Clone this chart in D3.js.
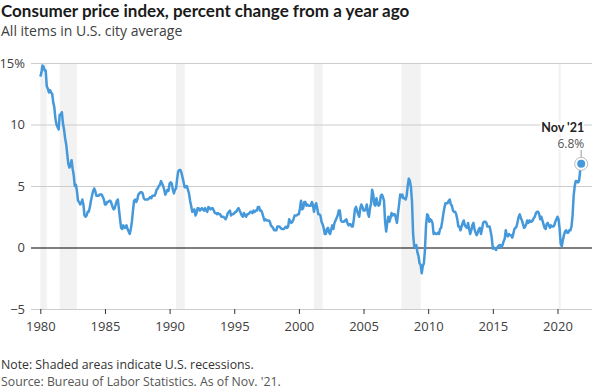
<!DOCTYPE html>
<html>
<head>
<meta charset="utf-8">
<script src="https://cdn.jsdelivr.net/npm/d3@7"></script>
<style>
  body { margin: 0; background: #fff; }
  svg { font-family: Lato, "Open Sans", sans-serif; }
</style>
</head>
<body>
<svg width="592" height="392"></svg>
<script>
// CPI-U all items, % change from a year ago, monthly from Jan 1980
const startYear = 1980;
const cpiYoY = [
  13.9, 14.2, 14.8, 14.7, 14.4, 14.4, 13.1, 12.9, 12.6, 12.8, 12.6, 12.5, // 1980
  11.8, 11.4, 10.5, 10.0, 9.8, 9.6, 10.8, 10.8, 11.0, 10.1, 9.6, 8.9,     // 1981
  8.4, 7.6, 6.8, 6.5, 6.7, 7.1, 6.4, 5.9, 5.0, 5.1, 4.6, 3.8,             // 1982
  3.7, 3.5, 3.6, 3.9, 3.5, 2.6, 2.5, 2.6, 2.9, 2.9, 3.3, 3.8,             // 1983
  4.2, 4.6, 4.8, 4.6, 4.2, 4.2, 4.2, 4.3, 4.3, 4.3, 4.1, 3.9,             // 1984
  3.5, 3.5, 3.7, 3.7, 3.8, 3.8, 3.6, 3.3, 3.1, 3.2, 3.5, 3.8,             // 1985
  3.9, 3.1, 2.3, 1.6, 1.5, 1.8, 1.6, 1.6, 1.8, 1.5, 1.3, 1.1,             // 1986
  1.5, 2.1, 3.0, 3.8, 3.9, 3.7, 3.9, 4.3, 4.4, 4.5, 4.5, 4.4,             // 1987
  4.0, 3.9, 3.9, 3.9, 3.9, 4.0, 4.1, 4.0, 4.2, 4.2, 4.2, 4.4,             // 1988
  4.7, 4.8, 5.0, 5.1, 5.4, 5.2, 5.0, 4.7, 4.3, 4.5, 4.7, 4.6,             // 1989
  5.2, 5.3, 5.2, 4.7, 4.4, 4.7, 4.8, 5.6, 6.2, 6.3, 6.3, 6.1,             // 1990
  5.7, 5.3, 4.9, 4.9, 5.0, 4.7, 4.4, 3.8, 3.4, 2.9, 3.0, 3.1,             // 1991
  2.6, 2.8, 3.2, 3.2, 3.0, 3.1, 3.2, 3.1, 3.0, 3.2, 3.0, 2.9,             // 1992
  3.3, 3.2, 3.1, 3.2, 3.2, 3.0, 2.8, 2.8, 2.7, 2.8, 2.7, 2.7,             // 1993
  2.5, 2.5, 2.5, 2.4, 2.3, 2.5, 2.8, 2.9, 3.0, 2.6, 2.7, 2.7,             // 1994
  2.8, 2.9, 2.9, 3.1, 3.2, 3.0, 2.8, 2.6, 2.5, 2.8, 2.6, 2.5,             // 1995
  2.7, 2.7, 2.8, 2.9, 2.9, 2.8, 3.0, 2.9, 3.0, 3.0, 3.3, 3.3,             // 1996
  3.0, 3.0, 2.8, 2.5, 2.2, 2.3, 2.2, 2.2, 2.2, 2.1, 1.8, 1.7,             // 1997
  1.6, 1.4, 1.4, 1.4, 1.7, 1.7, 1.7, 1.6, 1.5, 1.5, 1.5, 1.6,             // 1998
  1.7, 1.6, 1.7, 2.3, 2.1, 2.0, 2.1, 2.3, 2.6, 2.6, 2.6, 2.7,             // 1999
  2.7, 3.2, 3.8, 3.1, 3.2, 3.7, 3.7, 3.4, 3.5, 3.4, 3.4, 3.4,             // 2000
  3.7, 3.5, 2.9, 3.3, 3.6, 3.2, 2.7, 2.7, 2.6, 2.1, 1.9, 1.6,             // 2001
  1.1, 1.1, 1.5, 1.6, 1.2, 1.1, 1.5, 1.8, 1.5, 2.0, 2.2, 2.4,             // 2002
  2.6, 3.0, 3.0, 2.2, 2.1, 2.1, 2.1, 2.2, 2.3, 2.0, 1.8, 1.9,             // 2003
  1.9, 1.7, 1.7, 2.3, 3.1, 3.3, 3.0, 2.7, 2.5, 3.2, 3.5, 3.3,             // 2004
  3.0, 3.0, 3.1, 3.5, 2.8, 2.5, 3.2, 3.6, 4.7, 4.3, 3.5, 3.4,             // 2005
  4.0, 3.6, 3.4, 3.5, 4.2, 4.3, 4.1, 3.8, 2.1, 1.3, 2.0, 2.5,             // 2006
  2.1, 2.4, 2.8, 2.6, 2.7, 2.7, 2.4, 2.0, 2.8, 3.5, 4.3, 4.1,             // 2007
  4.3, 4.0, 4.0, 3.9, 4.2, 5.0, 5.6, 5.4, 4.9, 3.7, 1.1, 0.1,             // 2008
  0.0, 0.2, -0.4, -0.7, -1.3, -1.4, -2.1, -1.5, -1.3, -0.2, 1.8, 2.7,     // 2009
  2.6, 2.1, 2.3, 2.2, 2.0, 1.1, 1.2, 1.1, 1.1, 1.2, 1.1, 1.5,             // 2010
  1.6, 2.1, 2.7, 3.2, 3.6, 3.6, 3.6, 3.8, 3.9, 3.5, 3.4, 3.0,             // 2011
  2.9, 2.9, 2.7, 2.3, 1.7, 1.7, 1.4, 1.7, 2.0, 2.2, 1.8, 1.7,             // 2012
  1.6, 2.0, 1.5, 1.1, 1.4, 1.8, 2.0, 1.5, 1.2, 1.0, 1.2, 1.5,             // 2013
  1.6, 1.1, 1.5, 2.0, 2.1, 2.1, 2.0, 1.7, 1.7, 1.7, 1.3, 0.8,             // 2014
  -0.1, 0.0, -0.1, -0.2, 0.0, 0.1, 0.2, 0.2, 0.0, 0.2, 0.5, 0.7,          // 2015
  1.4, 1.0, 0.9, 1.1, 1.0, 1.0, 0.8, 1.1, 1.5, 1.6, 1.7, 2.1,             // 2016
  2.5, 2.7, 2.4, 2.2, 1.9, 1.6, 1.7, 1.9, 2.2, 2.0, 2.2, 2.1,             // 2017
  2.1, 2.2, 2.4, 2.5, 2.8, 2.9, 2.9, 2.7, 2.3, 2.5, 2.2, 1.9,             // 2018
  1.6, 1.5, 1.9, 2.0, 1.8, 1.6, 1.8, 1.7, 1.7, 1.8, 2.1, 2.3,             // 2019
  2.5, 2.3, 1.5, 0.3, 0.1, 0.6, 1.0, 1.3, 1.4, 1.2, 1.2, 1.4,             // 2020
  1.4, 1.7, 2.6, 4.2, 5.0, 5.4, 5.4, 5.3, 5.4, 6.2, 6.8                   // 2021
];

// recessions as [start, end] in decimal years
const recessions = [
  [1980.0, 1980.5], [1981.5, 1982.83], [1990.5, 1991.17],
  [2001.17, 2001.83], [2007.92, 2009.42], [2020.08, 2020.25]
];

const yTicks = [-5, 0, 5, 10, 15];
const xTicks = [1980, 1985, 1990, 1995, 2000, 2005, 2010, 2015, 2020];
const lastLabel = "Nov '21";

const data = cpiYoY.map((v, i) => ({ t: startYear + i / 12, v: v }));

const svg = d3.select("svg");

const x = d3.scaleLinear().domain([1979.28, 2022.67]).range([31, 592]);
const y = d3.scaleLinear().domain([-5, 15]).range([309, 63]);

// Title
svg.append("text")
    .attr("x", 1).attr("y", 17)
    .attr("font-size", 17).attr("font-weight", 700).attr("fill", "#1a1a1a")
    .text("Consumer price index, percent change from a year ago");
svg.append("text")
    .attr("x", 1).attr("y", 36)
    .attr("font-family", "'Open Sans', sans-serif")
    .attr("font-size", 14).attr("fill", "#404040")
    .text("All items in U.S. city average");

// Recession shading
svg.append("g").selectAll("rect")
    .data(recessions)
    .join("rect")
    .attr("x", d => x(d[0]))
    .attr("width", d => x(d[1]) - x(d[0]))
    .attr("y", y(15))
    .attr("height", y(-5) - y(15))
    .attr("fill", "#f2f2f2");

// Gridlines + y labels
const yAxis = svg.append("g")
    .attr("transform", "translate(31,0)")
    .call(d3.axisLeft(y).tickValues(yTicks).tickSize(-561).tickPadding(6)
        .tickFormat(d => d === 15 ? "15%" : d < 0 ? "\u2212" + Math.abs(d) : d));
yAxis.select(".domain").remove();
yAxis.selectAll(".tick line")
    .attr("stroke", d => d === 0 ? "#000" : "#cccccc")
    .attr("stroke-width", d => d === 0 ? 1.2 : 1);
yAxis.selectAll(".tick text")
    .attr("font-size", 13).attr("fill", "#404040")
    .attr("font-family", "'Open Sans', sans-serif");

// X axis ticks
const xAxis = svg.append("g")
    .attr("transform", `translate(0,${y(-5)})`)
    .call(d3.axisBottom(x).tickValues(xTicks).tickSize(5).tickPadding(8).tickFormat(d3.format("d")));
xAxis.select(".domain").remove();
xAxis.selectAll(".tick line").attr("stroke", "#333");
xAxis.selectAll(".tick text")
    .attr("font-size", 13).attr("fill", "#404040")
    .attr("font-family", "'Open Sans', sans-serif");

// Line
const line = d3.line().x(d => x(d.t)).y(d => y(d.v));
svg.append("path")
    .datum(data)
    .attr("d", line)
    .attr("fill", "none")
    .attr("stroke", "#4599da")
    .attr("stroke-width", 2.5)
    .attr("stroke-linejoin", "round");

// Annotation at last point
const last = data[data.length - 1];
const px = x(last.t), py = y(last.v);
svg.append("line")
    .attr("x1", px).attr("x2", px)
    .attr("y1", py - 14).attr("y2", py)
    .attr("stroke", "#999");
svg.append("circle")
    .attr("cx", px).attr("cy", py).attr("r", 6.5)
    .attr("fill", "#fff").attr("stroke", "#bbb").attr("stroke-width", 1);
svg.append("circle")
    .attr("cx", px).attr("cy", py).attr("r", 4)
    .attr("fill", "#4599da");
svg.append("text")
    .attr("x", px + 3).attr("y", py - 32)
    .attr("text-anchor", "end")
    .attr("font-size", 12.5).attr("font-weight", 700).attr("fill", "#222")
    .attr("stroke", "#fff").attr("stroke-width", 4).attr("paint-order", "stroke")
    .text(lastLabel);
svg.append("text")
    .attr("x", px + 3).attr("y", py - 16)
    .attr("text-anchor", "end")
    .attr("font-family", "'Open Sans', sans-serif")
    .attr("font-size", 12).attr("fill", "#555")
    .attr("stroke", "#fff").attr("stroke-width", 4).attr("paint-order", "stroke")
    .text(d3.format(".1f")(last.v) + "%");

// Notes
svg.append("text")
    .attr("x", 1).attr("y", 369)
    .attr("font-family", "'Open Sans', sans-serif")
    .attr("font-size", 12.3).attr("fill", "#333")
    .text("Note: Shaded areas indicate U.S. recessions.");
svg.append("text")
    .attr("x", 1).attr("y", 386)
    .attr("font-family", "'Open Sans', sans-serif")
    .attr("font-size", 12.3).attr("fill", "#555")
    .text("Source: Bureau of Labor Statistics. As of Nov. '21.");
</script>
</body>
</html>
